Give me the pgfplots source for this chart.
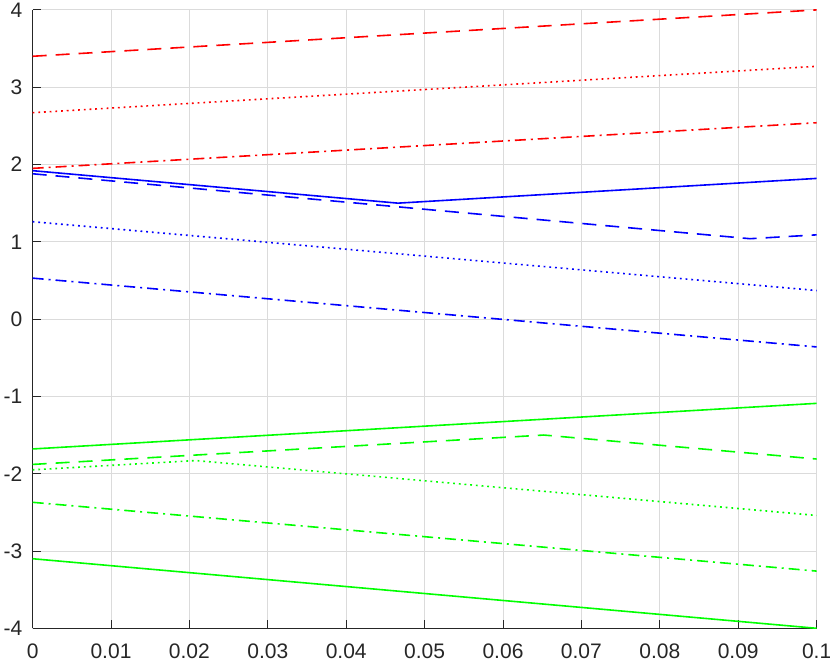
\documentclass[border=0pt]{standalone}
\usepackage{pgfplots}
\pgfplotsset{compat=1.18}
\usepackage{fontspec}
\setmainfont{Liberation Sans}
\definecolor{axgray}{gray}{0.15}
\definecolor{gridgray}{gray}{0.86}
\begin{document}
\fontsize{21}{25}\selectfont
\begin{tikzpicture}
\begin{axis}[
  scale only axis, width=784pt, height=618.4pt,
  xmin=0, xmax=0.1, ymin=-4, ymax=4,
  axis x line*=bottom, axis y line*=left,
  axis line style={-, color=axgray, line width=0.9pt},
  xtick={0,0.01,0.02,0.03,0.04,0.05,0.06,0.07,0.08,0.09,0.1},
  xticklabels={0,0.01,0.02,0.03,0.04,0.05,0.06,0.07,0.08,0.09,0.1},
  scaled x ticks=false,
  ytick={-4,-3,-2,-1,0,1,2,3,4},
  yticklabels={-4,-3,-2,-1,0,1,2,3,4},
  tick align=inside, major tick length=8pt,
  tick style={color=axgray, line width=0.9pt},
  grid=major, major grid style={color=gridgray, line width=1pt},
  /pgf/number format/assume math mode=true,
  tick label style={font=\fontsize{21}{25}\selectfont, text=axgray, inner sep=0pt},
  x tick label style={anchor=north, yshift=-15.5pt},
  y tick label style={anchor=east, xshift=-10pt},
  every axis plot/.append style={line width=1.6pt},
]
% red
\addplot[red, dash pattern=on 14pt off 9pt] coordinates {(0,3.40) (0.1,4.00)};
\addplot[red, dash pattern=on 1.8pt off 3.9pt] coordinates {(0,2.67) (0.1,3.27)};
\addplot[red, dash pattern=on 11pt off 5pt on 2pt off 5pt] coordinates {(0,1.95) (0.1,2.54)};
% blue
\addplot[blue] coordinates {(0,1.92) (0.0466,1.50) (0.1,1.82)};
\addplot[blue, dash pattern=on 14pt off 9pt] coordinates {(0,1.88) (0.0915,1.04) (0.1,1.09)};
\addplot[blue, dash pattern=on 1.8pt off 3.9pt] coordinates {(0,1.26) (0.1,0.37)};
\addplot[blue, dash pattern=on 11pt off 5pt on 2pt off 5pt] coordinates {(0,0.53) (0.1,-0.36)};
% green
\addplot[green] coordinates {(0,-1.68) (0.1,-1.09)};
\addplot[green, dash pattern=on 14pt off 9pt] coordinates {(0,-1.88) (0.0652,-1.50) (0.1,-1.81)};
\addplot[green, dash pattern=on 1.8pt off 3.9pt] coordinates {(0,-1.95) (0.0208,-1.83) (0.1,-2.54)};
\addplot[green, dash pattern=on 11pt off 5pt on 2pt off 5pt] coordinates {(0,-2.37) (0.1,-3.26)};
\addplot[green] coordinates {(0,-3.10) (0.1,-4.00)};
\end{axis}
\pgfresetboundingbox
\path ([xshift=-32.6pt,yshift=-35.7pt]current axis.south west) rectangle ([xshift=13.4pt,yshift=9.9pt]current axis.north east);
\end{tikzpicture}
\end{document}
